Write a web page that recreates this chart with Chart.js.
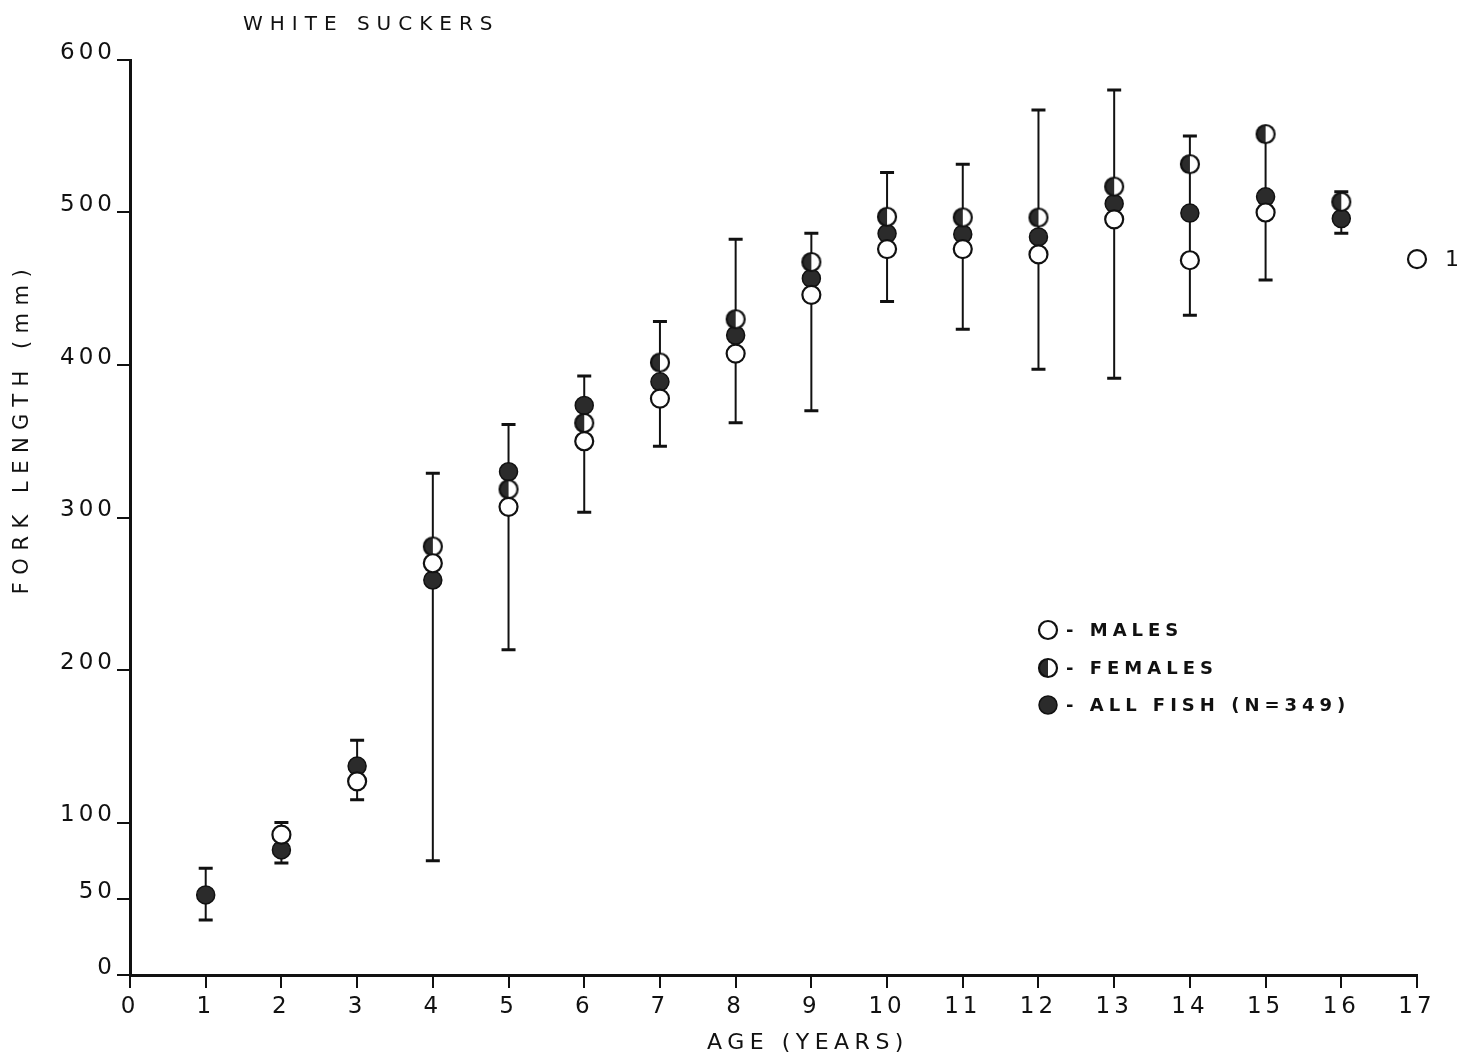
<!DOCTYPE html>
<html>
<head>
<meta charset="utf-8">
<script src="https://cdn.jsdelivr.net/npm/chart.js@4.4.1/dist/chart.umd.min.js"></script>
<style>
  html, body { margin: 0; padding: 0; background: #fff; }
  #wrap { position: relative; width: 1459px; height: 1061px; }
  canvas { display: block; }
</style>
</head>
<body>
<div id="wrap"><canvas id="c" width="1459" height="1061"></canvas></div>
<script>
// ---- data ----
const ages     = [1, 2, 3, 4, 5, 6, 7, 8, 9, 10, 11, 12, 13, 14, 15, 16, 17];
const males    = [null, 92, 127, 270, 307, 350, 378, 407.5, 446, 476, 476, 472.5, 495.5, 468.7, 500, null, 469.4];
const females  = [null, null, null, 281, 318.5, 362, 401.6, 430, 467.5, 497.2, 496.8, 496.7, 517, 531.7, 551.4, 507, null];
const allFish  = [52.5, 82, 137, 259, 330, 373.5, 389, 419.5, 456.8, 486.2, 485.8, 484, 505.8, 499.6, 510.3, 496, null];
const errHigh  = [70, 100, 154, 329, 361, 392.8, 428.5, 482.5, 486.4, 526.3, 531.7, 567.2, 580.3, 550.1, 554.7, 513.6, null];
const errLow   = [36, 73.5, 115, 75, 213.3, 303.5, 346.8, 362.2, 370, 441.6, 423.4, 397.2, 391.3, 432.6, 455.8, 486.4, null];
const yTicks   = [0, 50, 100, 200, 300, 400, 500, 600];
const xTicks   = [0, 1, 2, 3, 4, 5, 6, 7, 8, 9, 10, 11, 12, 13, 14, 15, 16, 17];
const singleN  = [{ age: 17, label: '1' }];
const legendItems = ['- MALES', '- FEMALES', '- ALL FISH (N=349)'];

const FONT = '"DejaVu Sans", sans-serif';
const INK = '#111';
const FILL = '#2b2b2b';

function pts(arr) {
  return ages.map((a, i) => arr[i] == null ? null : { x: a, y: arr[i] }).filter(p => p);
}

// half-filled marker for females
function halfMarker(r) {
  const c = document.createElement('canvas');
  const s = Math.ceil(r * 2 + 4);
  c.width = s; c.height = s;
  const g = c.getContext('2d');
  const cx = s / 2, cy = s / 2;
  g.beginPath(); g.arc(cx, cy, r, 0, Math.PI * 2); g.fillStyle = '#fff'; g.fill();
  g.beginPath(); g.moveTo(cx, cy - r); g.arc(cx, cy, r, -Math.PI / 2, Math.PI / 2, true); g.closePath();
  g.fillStyle = FILL; g.fill();
  g.beginPath(); g.arc(cx, cy, r, 0, Math.PI * 2); g.lineWidth = 2.2; g.strokeStyle = INK; g.stroke();
  return c;
}
const femaleImg = halfMarker(9);

const errorBars = {
  id: 'errorBars',
  beforeDatasetsDraw(chart) {
    const { ctx, scales: { x, y } } = chart;
    ctx.save();
    ctx.strokeStyle = INK;
    ages.forEach((a, i) => {
      if (errHigh[i] == null) return;
      const px = x.getPixelForValue(a);
      const top = y.getPixelForValue(errHigh[i]);
      const bot = y.getPixelForValue(errLow[i]);
      ctx.lineWidth = 2;
      ctx.beginPath(); ctx.moveTo(px, top); ctx.lineTo(px, bot); ctx.stroke();
      ctx.lineWidth = 3;
      ctx.beginPath(); ctx.moveTo(px - 7, top); ctx.lineTo(px + 7, top);
      ctx.moveTo(px - 7, bot); ctx.lineTo(px + 7, bot); ctx.stroke();
    });
    ctx.restore();
  }
};

const spacing = {
  id: 'spacing',
  beforeDraw(chart) { chart.ctx.letterSpacing = '4px'; }
};

const decorations = {
  id: 'decorations',
  afterDraw(chart) {
    const { ctx, scales: { x, y } } = chart;
    ctx.save();
    ctx.fillStyle = INK;
    // title
    ctx.letterSpacing = '7px';
    ctx.font = '20px ' + FONT;
    ctx.textAlign = 'left'; ctx.textBaseline = 'middle';
    ctx.fillText('WHITE SUCKERS', 243, 25);
    // x title
    ctx.letterSpacing = '5.5px';
    ctx.font = '22px ' + FONT;
    ctx.textAlign = 'center';
    ctx.fillText('AGE (YEARS)', 808, 1043);
    // y title
    ctx.save();
    ctx.translate(23, 428);
    ctx.rotate(-Math.PI / 2);
    ctx.letterSpacing = '7.5px';
    ctx.font = '21px ' + FONT;
    ctx.fillText('FORK LENGTH (mm)', 0, 0);
    ctx.restore();
    // sample size label
    ctx.letterSpacing = '0px';
    ctx.font = '22px ' + FONT;
    ctx.textAlign = 'left';
    singleN.forEach(s => {
      const i = ages.indexOf(s.age);
      ctx.fillText(s.label, x.getPixelForValue(s.age) + 28, y.getPixelForValue(males[i]) + 1);
    });
    // legend
    const lx = 1048, ly = [630, 668, 705];
    ctx.font = 'bold 18px ' + FONT;
    ctx.letterSpacing = '5px';
    legendItems.forEach((t, k) => {
      const cy = ly[k];
      if (k === 0) {
        ctx.beginPath(); ctx.arc(lx, cy, 9, 0, Math.PI * 2);
        ctx.fillStyle = '#fff'; ctx.fill();
        ctx.lineWidth = 2.2; ctx.strokeStyle = INK; ctx.stroke();
      } else if (k === 1) {
        ctx.drawImage(femaleImg, lx - femaleImg.width / 2, cy - femaleImg.height / 2);
      } else {
        ctx.beginPath(); ctx.arc(lx, cy, 9, 0, Math.PI * 2);
        ctx.fillStyle = FILL; ctx.fill();
        ctx.lineWidth = 1.5; ctx.strokeStyle = INK; ctx.stroke();
      }
      ctx.fillStyle = INK;
      ctx.fillText(t, lx + 18, cy + 1);
    });
    ctx.restore();
  }
};

new Chart(document.getElementById('c'), {
  type: 'scatter',
  data: {
    datasets: [
      { label: 'MALES', data: pts(males), pointStyle: 'circle', pointRadius: 9, pointHoverRadius: 9,
        backgroundColor: '#fff', borderColor: INK, borderWidth: 2.2, order: 1, clip: false },
      { label: 'FEMALES', data: pts(females), pointStyle: femaleImg, pointRadius: 9,
        backgroundColor: FILL, borderColor: INK, order: 2, clip: false },
      { label: 'ALL FISH (N=349)', data: pts(allFish), pointStyle: 'circle', pointRadius: 9, pointHoverRadius: 9,
        backgroundColor: FILL, borderColor: INK, borderWidth: 1.5, order: 3, clip: false }
    ]
  },
  options: {
    responsive: false,
    animation: false,
    events: [],
    layout: { padding: { top: 60, right: 42, bottom: 0, left: 0 } },
    plugins: { legend: { display: false }, tooltip: { enabled: false } },
    scales: {
      x: {
        type: 'linear', min: 0, max: 17,
        afterFit(s) { s.height = 86; },
        afterBuildTicks(s) { s.ticks = xTicks.map(v => ({ value: v })); },
        border: { display: true, color: INK, width: 3 },
        grid: { display: true, drawOnChartArea: false, drawTicks: true, tickLength: 13, color: INK, lineWidth: 2 },
        ticks: { color: INK, font: { family: FONT, size: 23 }, padding: 5, maxRotation: 0, autoSkip: false }
      },
      y: {
        type: 'linear', min: 0, max: 600,
        afterFit(s) { s.width = 130; },
        afterBuildTicks(s) { s.ticks = yTicks.map(v => ({ value: v })); },
        border: { display: true, color: INK, width: 3 },
        grid: { display: true, drawOnChartArea: false, drawTicks: true, tickLength: 13, color: INK, lineWidth: 2 },
        ticks: { color: INK, font: { family: FONT, size: 23 }, padding: 1, labelOffset: -7, autoSkip: false }
      }
    }
  },
  plugins: [spacing, errorBars, decorations]
});
</script>
</body>
</html>
